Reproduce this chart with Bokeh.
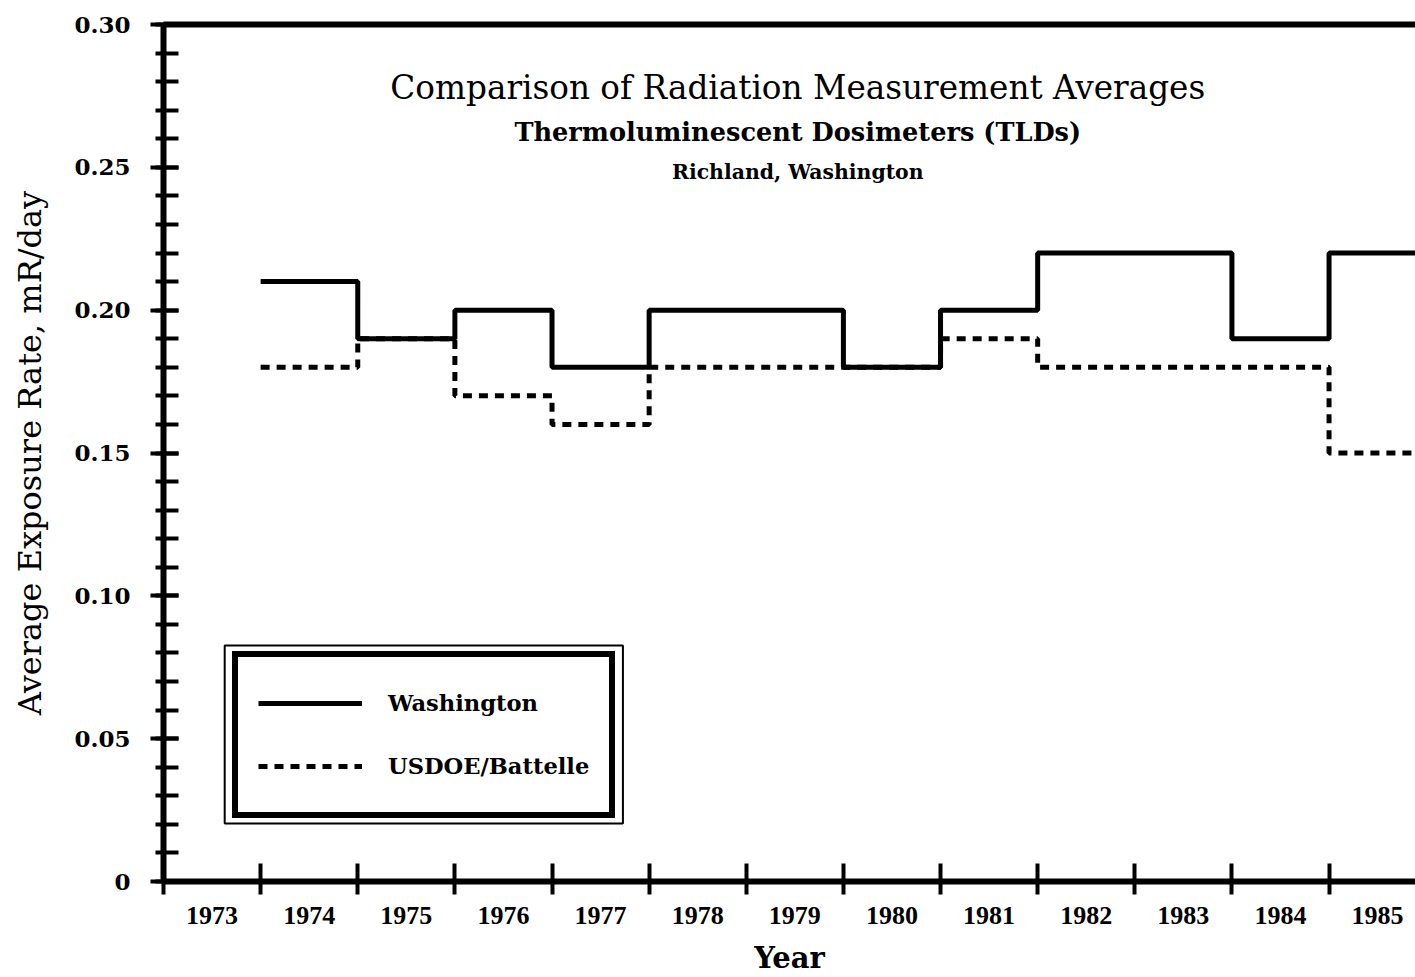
from bokeh.plotting import figure
from bokeh.models import (FixedTicker, Legend, LegendItem, BoxAnnotation, Label,
                          LinearAxis, Range1d)
from bokeh.embed import file_html
from bokeh.resources import INLINE

# ---- data ----
years = [1974, 1975, 1976, 1977, 1978, 1979, 1980, 1981, 1982, 1983, 1984, 1985]
washington = [0.21, 0.19, 0.20, 0.18, 0.20, 0.20, 0.18, 0.20, 0.22, 0.22, 0.19, 0.22]
usdoe_battelle = [0.18, 0.19, 0.17, 0.16, 0.18, 0.18, 0.18, 0.19, 0.18, 0.18, 0.18, 0.15]
year_labels = [1973, 1974, 1975, 1976, 1977, 1978, 1979, 1980, 1981, 1982, 1983, 1984, 1985]
y_ticks = [0, 0.05, 0.10, 0.15, 0.20, 0.25, 0.30]
y_tick_labels = ["0", "0.05", "0.10", "0.15", "0.20", "0.25", "0.30"]

title1 = "Comparison of Radiation Measurement Averages"
title2 = "Thermoluminescent Dosimeters (TLDs)"
title3 = "Richland, Washington"

SERIF = "DejaVu Serif"

def step_xy(vals):
    xs = [y - 0.5 for y in years] + [years[-1] + 0.5]
    ys = list(vals) + [vals[-1]]
    return xs, ys

p = figure(width=1415, height=977, output_backend="svg", toolbar_location=None,
           x_range=Range1d(1972.5, 1985.39), y_range=Range1d(0, 0.30),
           min_border_left=163, min_border_right=0, min_border_top=24,
           min_border_bottom=96)
p.outline_line_color = None
p.xgrid.visible = False
p.ygrid.visible = False
p.background_fill_color = "white"

# ---- series ----
xd, yd = step_xy(usdoe_battelle)
r_doe = p.step(xd, yd, mode="after", line_color="black", line_width=5,
               line_dash="9 7")
xw, yw = step_xy(washington)
r_wa = p.step(xw, yw, mode="after", line_color="black", line_width=5)

# ---- axes ----
xa = p.xaxis[0]
xa.ticker = FixedTicker(ticks=year_labels,
                        minor_ticks=[y - 0.5 for y in year_labels])
xa.axis_line_width = 6
xa.axis_line_color = "black"
xa.major_tick_line_color = None
xa.major_tick_in = 0
xa.major_tick_out = 0
xa.minor_tick_in = 18
xa.minor_tick_out = 13
xa.minor_tick_line_width = 4
xa.minor_tick_line_color = "black"
xa.major_label_standoff = 12
xa.major_label_text_font = "Liberation Serif"
xa.major_label_text_font_style = "bold"
xa.major_label_text_font_size = "26px"
xa.major_label_text_color = "black"
xa.axis_label = "Year"
xa.axis_label_text_font = SERIF
xa.axis_label_text_font_style = "bold"
xa.axis_label_text_font_size = "29px"
xa.axis_label_text_color = "black"
xa.axis_label_standoff = 14

ya = p.yaxis[0]
ya.ticker = FixedTicker(ticks=y_ticks,
                        minor_ticks=[i / 100 for i in range(0, 31)])
ya.major_label_overrides = {t: l for t, l in zip(y_ticks, y_tick_labels)}
ya.axis_line_width = 6
ya.axis_line_color = "black"
ya.major_tick_in = 15
ya.major_tick_out = 13
ya.major_tick_line_width = 4
ya.major_tick_line_color = "black"
ya.minor_tick_in = 15
ya.minor_tick_out = 8
ya.minor_tick_line_width = 4
ya.minor_tick_line_color = "black"
ya.major_label_standoff = 20
ya.major_label_text_font = SERIF
ya.major_label_text_font_style = "bold"
ya.major_label_text_font_size = "23px"
ya.major_label_text_color = "black"
ya.axis_label = "Average Exposure Rate, mR/day"
ya.axis_label_text_font = SERIF
ya.axis_label_text_font_style = "normal"
ya.axis_label_text_font_size = "32px"
ya.axis_label_text_color = "black"
ya.axis_label_standoff = 22

top = LinearAxis(ticker=FixedTicker(ticks=[]), axis_line_width=6,
                 axis_line_color="black",
                 major_label_text_font_size="0px", major_tick_in=0,
                 major_tick_out=0, minor_tick_in=0, minor_tick_out=0)
p.add_layout(top, "above")

# ---- titles ----
for txt, yv, sz, st in [(title1, 0.2776, "32.7px", "normal"),
                        (title2, 0.2623, "25.6px", "bold"),
                        (title3, 0.2483, "20.4px", "bold")]:
    p.add_layout(Label(x=1979.03, y=yv, text=txt, text_align="center",
                       text_baseline="middle", text_font=SERIF,
                       text_font_style=st, text_font_size=sz,
                       text_color="black"))

# ---- legend ----
p.add_layout(BoxAnnotation(left=1973.13, right=1977.23, bottom=0.0203, top=0.0826,
                           fill_color=None, line_color="black", line_alpha=1.0,
                           line_width=2))
legend = Legend(items=[LegendItem(label="Washington", renderers=[r_wa]),
                       LegendItem(label="USDOE/Battelle", renderers=[r_doe])],
                location=(69, 63), border_line_color="black", border_line_width=6,
                border_line_alpha=1.0,
                padding=20, spacing=11, glyph_width=104, glyph_height=52,
                label_standoff=26, margin=0, label_text_font=SERIF,
                label_text_font_style="bold", label_text_font_size="22.6px",
                label_text_color="black",
                background_fill_alpha=1.0)
p.add_layout(legend)

open("out.html", "w").write(file_html(p, INLINE))
